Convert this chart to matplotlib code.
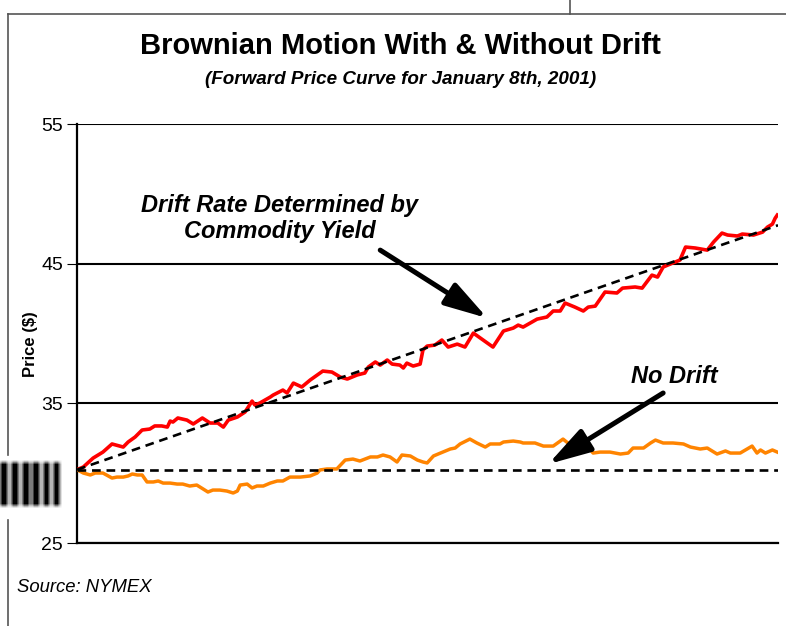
import matplotlib
matplotlib.use("Agg")
import matplotlib.pyplot as plt
import numpy as np
from matplotlib.lines import Line2D

plt.rcParams["font.family"] = ["Liberation Sans", "DejaVu Sans"]

# 시간 축 (0~100 구간), 가격 값은 그림에서 읽은 추정치
days_drift = [0, 0.9, 2.3, 3.7, 5.0, 6.1, 6.6, 7.3, 8.3, 9.3,
              10.4, 11.1, 12.1, 12.9, 13.3, 13.7, 14.4, 15.7, 16.6, 17.9,
              19.0, 20.1, 20.9, 21.6, 22.9, 24.0, 25.0, 25.4, 26.1, 27.6,
              28.0, 29.4, 30.0, 30.9, 32.1, 33.3, 35.1, 36.4, 37.6, 38.6,
              40.0, 41.1, 41.6, 42.6, 43.3, 44.3, 45.0, 46.1, 46.6, 47.1,
              48.0, 49.0, 49.4, 50.0, 51.1, 52.1, 53.0, 54.3, 55.4, 56.6,
              58.0, 59.4, 60.9, 62.3, 63.0, 63.7, 65.7, 67.1, 68.0, 69.0,
              69.7, 71.1, 72.3, 73.0, 74.0, 75.4, 77.1, 77.9, 79.7, 80.7,
              82.1, 82.9, 83.7, 84.7, 86.1, 86.9, 88.3, 90.0, 90.9, 92.1,
              92.9, 94.3, 95.0, 96.6, 97.9, 98.6, 99.3, 99.7, 100.0]
price_drift = [30.25, 30.44, 31.08, 31.51, 32.09, 31.94, 31.87, 32.23, 32.59, 33.09,
               33.16, 33.38, 33.38, 33.30, 33.73, 33.66, 33.95, 33.80, 33.52, 33.95,
               33.59, 33.59, 33.30, 33.80, 34.02, 34.38, 35.16, 34.88, 35.02, 35.45,
               35.59, 35.95, 35.74, 36.45, 36.17, 36.67, 37.31, 37.24, 36.88, 36.74,
               37.03, 37.17, 37.60, 37.96, 37.74, 38.10, 37.81, 37.74, 37.53, 37.88,
               37.67, 37.81, 38.82, 39.10, 39.17, 39.53, 39.03, 39.24, 39.03, 40.03,
               39.53, 39.03, 40.18, 40.39, 40.60, 40.46, 41.03, 41.18, 41.61, 41.61,
               42.18, 41.89, 41.61, 41.89, 41.96, 42.97, 42.90, 43.25, 43.33, 43.25,
               44.18, 44.04, 44.76, 44.97, 45.26, 46.19, 46.12, 45.97, 46.55, 47.19,
               47.05, 46.98, 47.12, 47.05, 47.26, 47.62, 47.83, 48.26, 48.48]

days_nodrift = [0, 0.9, 1.9, 2.6, 3.7, 5.0, 5.7, 6.6, 7.3, 7.9,
                8.6, 9.3, 10.0, 10.9, 11.6, 12.3, 13.3, 14.3, 15.1, 16.1,
                17.1, 18.0, 18.7, 19.4, 20.4, 21.4, 22.3, 22.9, 23.3, 24.3,
                25.0, 25.7, 26.6, 27.6, 28.6, 29.4, 30.4, 31.9, 33.3, 34.3,
                34.7, 35.7, 37.1, 38.3, 39.4, 40.4, 41.9, 42.9, 43.7, 44.7,
                45.7, 46.4, 47.6, 48.6, 49.4, 50.0, 50.9, 51.9, 53.3, 54.0,
                54.7, 56.1, 57.1, 58.3, 59.0, 60.4, 60.9, 62.3, 63.3, 63.7,
                64.4, 65.4, 66.6, 68.0, 69.4, 70.1, 71.4, 72.9, 73.7, 74.7,
                76.1, 77.6, 78.7, 79.4, 80.9, 81.9, 82.6, 83.7, 85.1, 86.6,
                87.6, 89.0, 90.0, 91.4, 92.6, 93.3, 94.7, 96.4, 97.1, 97.6,
                98.3, 99.3, 100.0]
price_nodrift = [30.25, 30.01, 29.87, 30.01, 30.01, 29.65, 29.72, 29.72, 29.80, 29.94,
                 29.87, 29.87, 29.37, 29.37, 29.44, 29.29, 29.29, 29.22, 29.22, 29.08,
                 29.15, 28.87, 28.65, 28.79, 28.79, 28.72, 28.58, 28.72, 29.15, 29.22,
                 28.94, 29.08, 29.08, 29.29, 29.44, 29.44, 29.72, 29.72, 29.80, 30.01,
                 30.23, 30.30, 30.30, 30.94, 31.01, 30.87, 31.16, 31.16, 31.30, 31.16,
                 30.80, 31.30, 31.23, 30.94, 30.80, 30.73, 31.23, 31.44, 31.73, 31.80,
                 32.09, 32.44, 32.16, 31.87, 32.09, 32.09, 32.23, 32.30, 32.23, 32.16,
                 32.16, 32.16, 31.94, 31.94, 32.44, 32.16, 32.01, 31.94, 31.44, 31.51,
                 31.51, 31.37, 31.44, 31.80, 31.80, 32.16, 32.37, 32.16, 32.16, 32.09,
                 31.87, 31.73, 31.80, 31.37, 31.59, 31.44, 31.44, 31.94, 31.44, 31.66,
                 31.44, 31.66, 31.51]

trend_days = [0, 100.1]
trend_drift = [30.25, 47.75]
trend_nodrift = [30.25, 30.25]
y_ticks = [25, 35, 45, 55]

fig = plt.figure(figsize=(7.86, 6.26), dpi=100)
ax = fig.add_axes([77 / 786, 1 - 543 / 626, 701 / 786, 419 / 626])

ax.plot(days_drift, price_drift, color="#ff0000", lw=2.6, zorder=3)
ax.plot(days_nodrift, price_nodrift, color="#ff8400", lw=2.5, zorder=3)
ax.plot(trend_days, trend_drift, color="black", lw=1.9, dashes=(3.3, 2.2), zorder=4)
ax.plot(trend_days, trend_nodrift, color="black", lw=1.9, dashes=(3.3, 2.2), zorder=4)

ax.set_xlim(0, 100.1)
ax.set_ylim(25, 55)
ax.set_yticks(y_ticks)
ax.set_xticks([])
ax.grid(True, axis="y", color="black", lw=1.5)
ax.set_axisbelow(True)
for side in ["top", "right"]:
    ax.spines[side].set_visible(False)
for side in ["left", "bottom"]:
    ax.spines[side].set_linewidth(1.6)
    ax.spines[side].set_color("black")
ax.tick_params(axis="y", length=7, width=0.8, pad=3, labelsize=14)

# 주석 텍스트와 화살표
ax.text(28.9, 48.25, "Drift Rate Determined by\nCommodity Yield", ha="center", va="center",
        fontsize=17, weight="bold", style="italic", linespacing=1.15)
ax.text(85.3, 36.9, "No Drift", ha="center", va="center", fontsize=17, weight="bold", style="italic")
arrow_style = dict(arrowstyle="-|>,head_length=1.3,head_width=0.38", lw=3.6, color="black",
                   shrinkA=0, shrinkB=0, mutation_scale=20)
ax.annotate("", xy=(58.6, 41.1), xytext=(43.3, 45.97), arrowprops=arrow_style)
ax.annotate("", xy=(67.3, 30.65), xytext=(83.7, 35.74), arrowprops=arrow_style)

# 제목, 부제목, 축 라벨, 출처
fig.text(400 / 786, 1 - 46 / 626, "Brownian Motion With & Without Drift", ha="center", va="center",
         fontsize=21, weight="bold")
fig.text(401 / 786, 1 - 79 / 626, "(Forward Price Curve for January 8th, 2001)", ha="center", va="center",
         fontsize=13.6, weight="bold", style="italic")
fig.text(30 / 786, 1 - 344 / 626, "Price ($)", rotation=90, ha="center", va="center",
         fontsize=12, weight="bold")
fig.text(17 / 786, 1 - 588 / 626, "Source: NYMEX", ha="left", va="center", fontsize=13.3, style="italic")

# 스캔된 페이지의 테두리
frame = dict(color="#555555", lw=1.2, transform=fig.transFigure)
fig.add_artist(Line2D([8 / 786, 1], [1 - 13.5 / 626] * 2, **frame))
fig.add_artist(Line2D([8 / 786] * 2, [1 - 13.5 / 626, 1 - 455 / 626], **frame))
fig.add_artist(Line2D([8 / 786] * 2, [1 - 520 / 626, 0], **frame))
fig.add_artist(Line2D([570 / 786] * 2, [1, 1 - 13.5 / 626], **frame))

# 왼쪽 가장자리의 흐릿한 바코드 조각
bar_ax = fig.add_axes([0, 1 - 514 / 626, 62 / 786, 60 / 626])
pattern = np.zeros((60, 62))
for x0, x1 in [(0, 8), (11, 19), (22, 30), (32, 40), (43, 50), (53, 60)]:
    pattern[8:52, x0:x1] = 1.0
kernel = np.ones(5) / 5
pattern = np.apply_along_axis(lambda r: np.convolve(r, kernel, mode="same"), 1, pattern)
pattern = np.apply_along_axis(lambda c: np.convolve(c, kernel, mode="same"), 0, pattern)
bar_ax.imshow(pattern, cmap="Greys", vmin=0, vmax=1, aspect="auto", interpolation="bilinear")
bar_ax.axis("off")

fig.savefig("out.png", dpi=100)
